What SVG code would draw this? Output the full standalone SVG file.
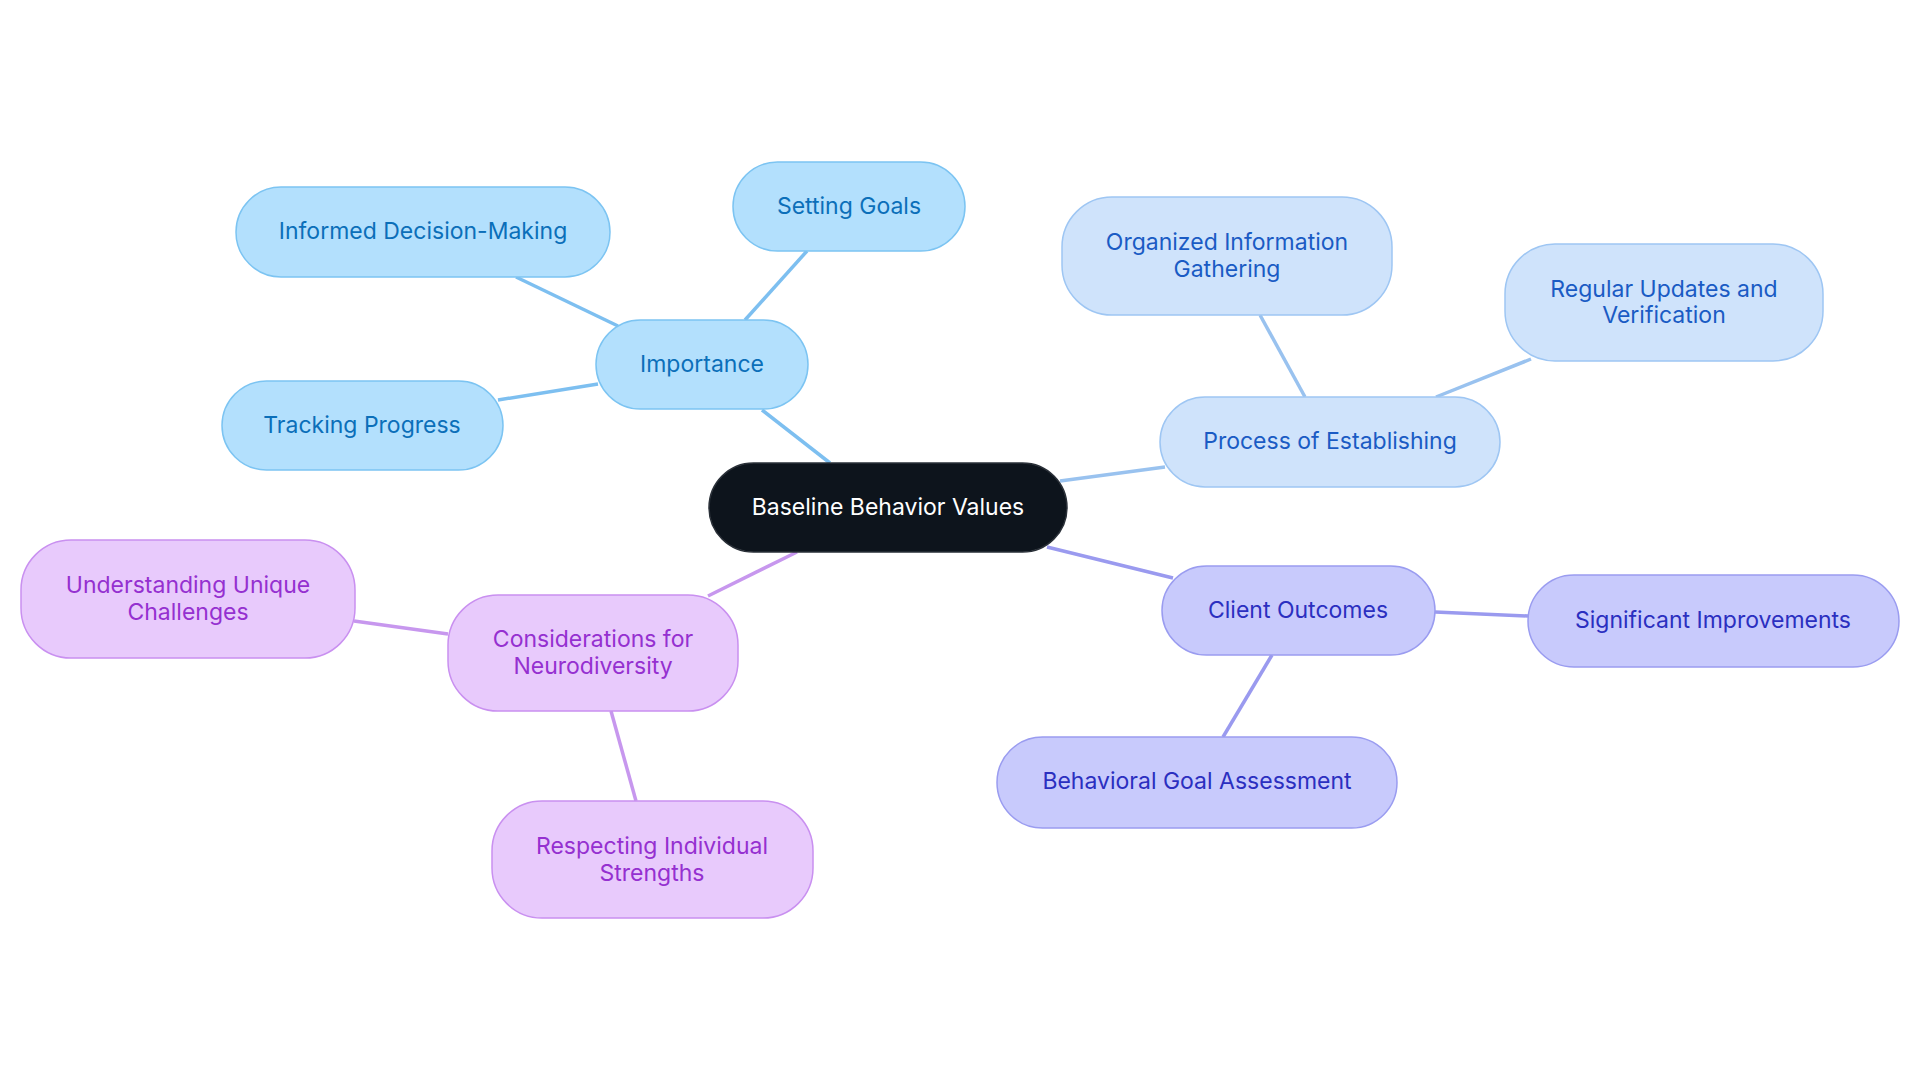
<svg xmlns="http://www.w3.org/2000/svg" width="1920" height="1083" viewBox="0 0 1920 1083">
<style>
text{font-family:Inter,"Noto Sans",sans-serif;font-size:23px;text-anchor:middle;dominant-baseline:central}
.a rect{fill:#b3e0fd;stroke:#7cc4f2;stroke-width:1.5}.a text{fill:#0b6fb9}
.b rect{fill:#cfe3fb;stroke:#9ec6f3;stroke-width:1.5}.b text{fill:#1a5bc4}
.c rect{fill:#c8cafc;stroke:#9a9cf0;stroke-width:1.5}.c text{fill:#2b2fc0}
.d rect{fill:#e8cafc;stroke:#c990f0;stroke-width:1.5}.d text{fill:#9530d0}
#edges line{stroke-width:3.5;fill:none}
</style>
<rect width="1920" height="1083" fill="#fff"/>
<g id="edges">
<g stroke="#7dbff0"><line x1="830" y1="463" x2="762" y2="410"/><line x1="745" y1="320" x2="807" y2="251"/><line x1="618" y1="326" x2="516" y2="277"/><line x1="598" y1="384" x2="498" y2="400"/></g>
<g stroke="#99c2ef"><line x1="1060" y1="481" x2="1165" y2="467"/><line x1="1305" y1="397" x2="1260" y2="315"/><line x1="1436" y1="397" x2="1531" y2="359"/></g>
<g stroke="#9a9aef"><line x1="1047" y1="547" x2="1173" y2="578"/><line x1="1435" y1="612" x2="1528" y2="616"/><line x1="1272" y1="655" x2="1223" y2="737"/></g>
<g stroke="#c797ee"><line x1="797" y1="552" x2="708" y2="596"/><line x1="448" y1="634" x2="354" y2="621"/><line x1="611" y1="711" x2="636" y2="801"/></g>
</g>
<g id="center"><rect x="709" y="463" width="358" height="89" rx="44.5" fill="#0d141c" stroke="#2a3038" stroke-width="1.5"/><text x="888" y="507" fill="#fff">Baseline Behavior Values</text></g>
<g id="importance" class="a"><rect x="596" y="320" width="212" height="89" rx="44.5"/><text x="702" y="364">Importance</text></g>
<g id="setting" class="a"><rect x="733" y="162" width="232" height="89" rx="44.5"/><text x="849" y="206">Setting Goals</text></g>
<g id="informed" class="a"><rect x="236" y="187" width="374" height="90" rx="45"/><text x="423" y="231">Informed Decision-Making</text></g>
<g id="tracking" class="a"><rect x="222" y="381" width="281" height="89" rx="44.5"/><text x="362" y="425">Tracking Progress</text></g>
<g id="process" class="b"><rect x="1160" y="397" width="340" height="90" rx="45"/><text x="1330" y="441">Process of Establishing</text></g>
<g id="organized" class="b"><rect x="1062" y="197" width="330" height="118" rx="50"/><text x="1227" y="242">Organized Information</text><text x="1227" y="269">Gathering</text></g>
<g id="regular" class="b"><rect x="1505" y="244" width="318" height="117" rx="50"/><text x="1664" y="289">Regular Updates and</text><text x="1664" y="315">Verification</text></g>
<g id="client" class="c"><rect x="1162" y="566" width="273" height="89" rx="44.5"/><text x="1298" y="610">Client Outcomes</text></g>
<g id="significant" class="c"><rect x="1528" y="575" width="371" height="92" rx="46"/><text x="1713" y="620">Significant Improvements</text></g>
<g id="behavioral" class="c"><rect x="997" y="737" width="400" height="91" rx="45.5"/><text x="1197" y="781">Behavioral Goal Assessment</text></g>
<g id="considerations" class="d"><rect x="448" y="595" width="290" height="116" rx="50"/><text x="593" y="639">Considerations for</text><text x="593" y="666">Neurodiversity</text></g>
<g id="understanding" class="d"><rect x="21" y="540" width="334" height="118" rx="50"/><text x="188" y="585">Understanding Unique</text><text x="188" y="612">Challenges</text></g>
<g id="respecting" class="d"><rect x="492" y="801" width="321" height="117" rx="50"/><text x="652" y="846">Respecting Individual</text><text x="652" y="873">Strengths</text></g>
</svg>
